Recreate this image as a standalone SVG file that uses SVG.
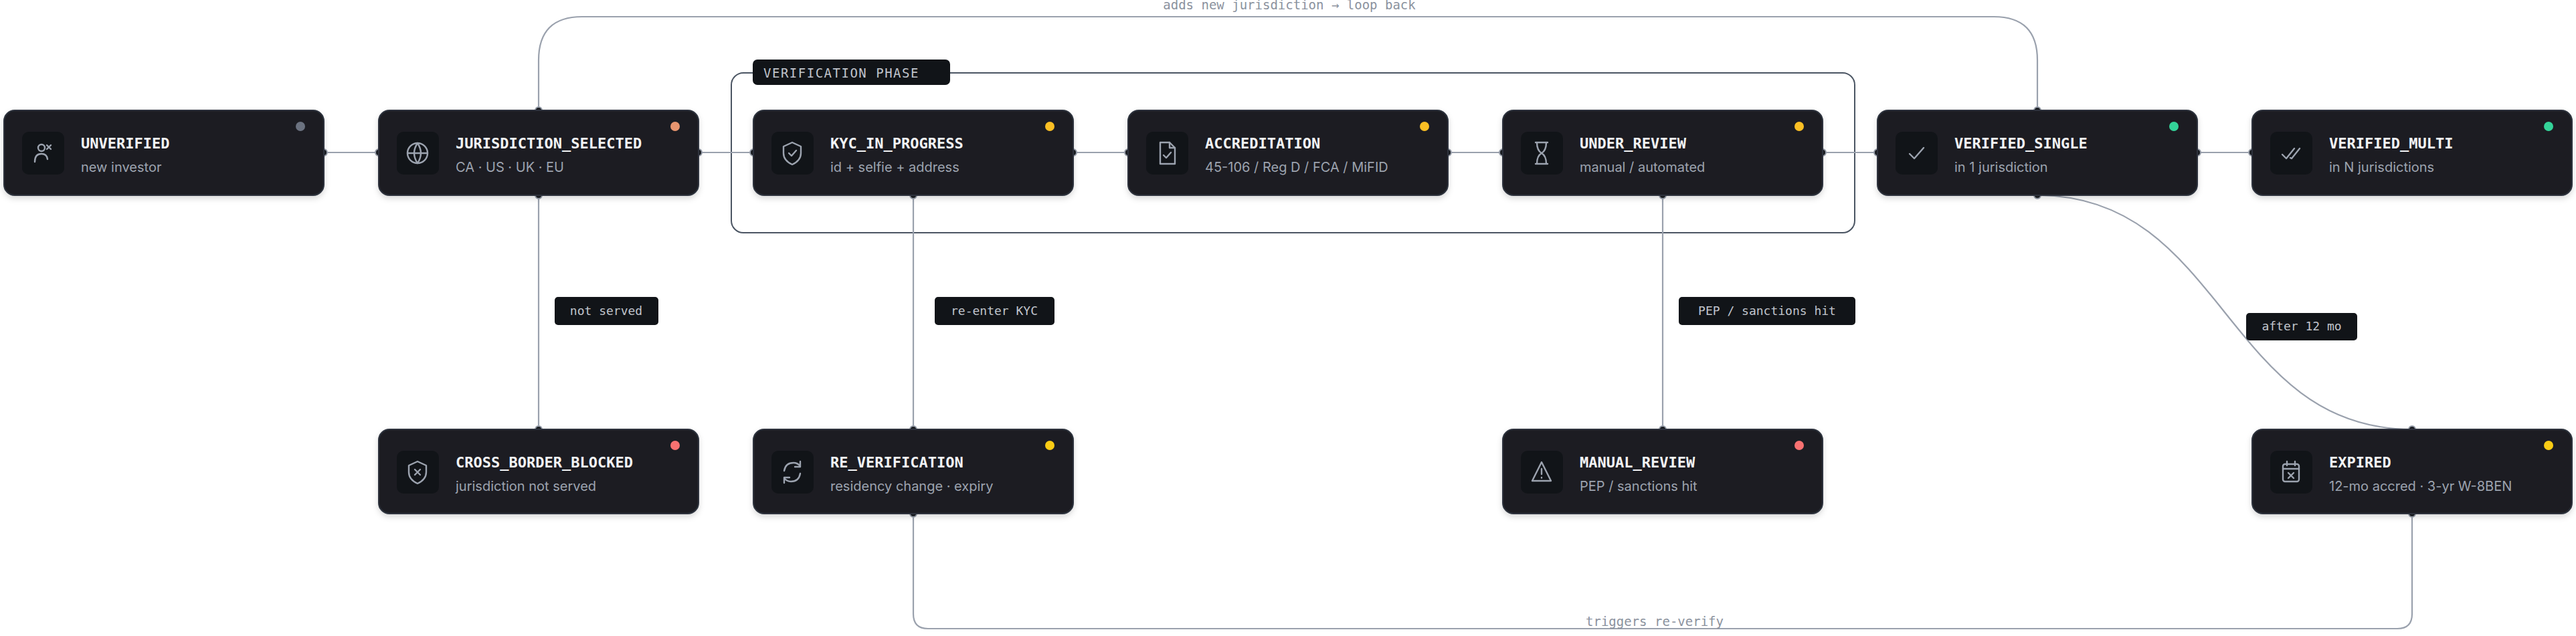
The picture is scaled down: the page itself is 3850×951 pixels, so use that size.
<svg xmlns="http://www.w3.org/2000/svg" width="3850" height="951" viewBox="0 0 3850 951">
<style>
.node{fill:#1c1f24;stroke:#2d333d;stroke-width:2}
.ibox{fill:#111418}
.ic{fill:none;stroke:#9ca3af;stroke-width:2.4;stroke-linecap:round;stroke-linejoin:round}
.t{font-family:"DejaVu Sans Mono","Liberation Mono",monospace;font-weight:bold;font-size:22px;fill:#f3f4f6}
.s{font-family:Inter,"Liberation Sans",sans-serif;font-size:20px;fill:#9ca3af}
.e{fill:none;stroke:#9aa1ad;stroke-width:2.2}
.lbg{fill:#111418}
.lt{font-family:"DejaVu Sans Mono","Liberation Mono",monospace;font-size:18px;fill:#c0c4cc;text-anchor:middle}
.el{font-family:"DejaVu Sans Mono","Liberation Mono",monospace;font-size:19px;fill:#8b929e;text-anchor:middle}
.p{fill:#1c1f24;stroke:#9aa1ad;stroke-width:2}
</style>
<defs>
<filter id="sh" x="-5%" y="-10%" width="110%" height="130%"><feDropShadow dx="0" dy="4" stdDeviation="4" flood-color="#000" flood-opacity="0.15"/></filter>
</defs>
<rect width="3850" height="951" fill="#ffffff"/>

<g id="group-verification">
<rect x="1093" y="109" width="1679" height="239" rx="18" fill="none" stroke="#4b5563" stroke-width="2"/>
<rect x="1125" y="89" width="295" height="38" rx="7" fill="#111418"/>
<text x="1141" y="116" style="font-family:'DejaVu Sans Mono','Liberation Mono',monospace;font-size:19px;fill:#c0c4cc;letter-spacing:1.5px">VERIFICATION PHASE</text>
</g>

<g id="connectors">
<path class="e" d="M484 228H566M1044 228H1126M1604 228H1686M2164 228H2246M2724 228H2806M3284 228H3366"/>
<path class="e" d="M805 165V90Q805 25 870 25H2980Q3045 25 3045 90V165"/>
<text class="el" x="1927" y="14">adds new jurisdiction → loop back</text>
<path class="e" d="M805 292V642"/>
<rect class="lbg" x="829" y="444" width="155" height="42" rx="5"/>
<text class="lt" x="906" y="471">not served</text>
<path class="e" d="M1365 292V642"/>
<rect class="lbg" x="1397" y="444" width="179" height="42" rx="5"/>
<text class="lt" x="1486" y="471">re-enter KYC</text>
<path class="e" d="M2485 292V642"/>
<rect class="lbg" x="2509" y="444" width="264" height="42" rx="5"/>
<text class="lt" x="2641" y="471">PEP / sanctions hit</text>
<path class="e" d="M3045 292C3325 292 3325 642 3605 642"/>
<rect class="lbg" x="3357" y="468" width="166" height="41" rx="5"/>
<text class="lt" x="3440" y="494">after 12 mo</text>
<path class="e" d="M1365 768V918Q1365 940 1387 940H3583Q3605 940 3605 918V768"/>
<text class="el" x="2473" y="936">triggers re-verify</text>
<g>
<circle class="p" cx="484" cy="228" r="5"/><circle class="p" cx="566" cy="228" r="5"/>
<circle class="p" cx="1044" cy="228" r="5"/><circle class="p" cx="1126" cy="228" r="5"/>
<circle class="p" cx="1604" cy="228" r="5"/><circle class="p" cx="1686" cy="228" r="5"/>
<circle class="p" cx="2164" cy="228" r="5"/><circle class="p" cx="2246" cy="228" r="5"/>
<circle class="p" cx="2724" cy="228" r="5"/><circle class="p" cx="2806" cy="228" r="5"/>
<circle class="p" cx="3284" cy="228" r="5"/><circle class="p" cx="3366" cy="228" r="5"/>
<circle class="p" cx="805" cy="165" r="5"/><circle class="p" cx="3045" cy="165" r="5"/>
<circle class="p" cx="805" cy="292" r="5"/><circle class="p" cx="805" cy="642" r="5"/>
<circle class="p" cx="1365" cy="292" r="5"/><circle class="p" cx="1365" cy="642" r="5"/>
<circle class="p" cx="2485" cy="292" r="5"/><circle class="p" cx="2485" cy="642" r="5"/>
<circle class="p" cx="3045" cy="292" r="5"/><circle class="p" cx="3605" cy="642" r="5"/>
<circle class="p" cx="1365" cy="768" r="5"/><circle class="p" cx="3605" cy="768" r="5"/>
</g>
</g>

<g id="UNVERIFIED" transform="translate(6,165)">
<rect class="node" width="478" height="127" rx="16" filter="url(#sh)"/><rect class="ibox" x="27" y="32" width="63" height="64" rx="10"/>
<g class="ic"><circle cx="56" cy="56" r="5"/><path d="M46 77Q46 65 56 65Q64 65 65 73M64 52L70 58M70 52L64 58"/></g>
<text class="t" x="115" y="57">UNVERIFIED</text><text class="s" x="115" y="92">new investor</text>
<circle cx="443" cy="24" r="7" fill="#6b7280"/></g>

<g id="JURISDICTION_SELECTED" transform="translate(566,165)">
<rect class="node" width="478" height="127" rx="16" filter="url(#sh)"/><rect class="ibox" x="27" y="32" width="63" height="64" rx="10"/>
<g class="ic"><circle cx="58" cy="64" r="15"/><path d="M43 64H73M58 49Q48 64 58 79Q68 64 58 49"/></g>
<text class="t" x="115" y="57">JURISDICTION_SELECTED</text><text class="s" x="115" y="92">CA · US · UK · EU</text>
<circle cx="443" cy="24" r="7" fill="#e8956f"/></g>

<g id="KYC_IN_PROGRESS" transform="translate(1126,165)">
<rect class="node" width="478" height="127" rx="16" filter="url(#sh)"/><rect class="ibox" x="27" y="32" width="63" height="64" rx="10"/>
<g class="ic"><path d="M58 48L71 54V64Q71 75 58 81Q45 75 45 64V54Z"/><path d="M53 64L57 68L64 60"/></g>
<text class="t" x="115" y="57">KYC_IN_PROGRESS</text><text class="s" x="115" y="92">id + selfie + address</text>
<circle cx="443" cy="24" r="7" fill="#fbbf24"/></g>

<g id="ACCREDITATION" transform="translate(1686,165)">
<rect class="node" width="478" height="127" rx="16" filter="url(#sh)"/><rect class="ibox" x="27" y="32" width="63" height="64" rx="10"/>
<g class="ic"><path d="M48 48H62L70 56V80H48Z"/><path d="M62 48V56H70M53 67L57 71L64 63"/></g>
<text class="t" x="115" y="57">ACCREDITATION</text><text class="s" x="115" y="92">45-106 / Reg D / FCA / MiFID</text>
<circle cx="443" cy="24" r="7" fill="#fbbf24"/></g>

<g id="UNDER_REVIEW" transform="translate(2246,165)">
<rect class="node" width="478" height="127" rx="16" filter="url(#sh)"/><rect class="ibox" x="27" y="32" width="63" height="64" rx="10"/>
<g class="ic"><path d="M49 48H67M49 80H67M51 48Q51 60 58 64Q65 68 65 80M65 48Q65 60 58 64Q51 68 51 80"/></g>
<text class="t" x="115" y="57">UNDER_REVIEW</text><text class="s" x="115" y="92">manual / automated</text>
<circle cx="443" cy="24" r="7" fill="#fbbf24"/></g>

<g id="VERIFIED_SINGLE" transform="translate(2806,165)">
<rect class="node" width="478" height="127" rx="16" filter="url(#sh)"/><rect class="ibox" x="27" y="32" width="63" height="64" rx="10"/>
<g class="ic"><path d="M48 65L55 72L69 56"/></g>
<text class="t" x="115" y="57">VERIFIED_SINGLE</text><text class="s" x="115" y="92">in 1 jurisdiction</text>
<circle cx="443" cy="24" r="7" fill="#34d399"/></g>

<g id="VERIFIED_MULTI" transform="translate(3366,165)">
<rect class="node" width="478" height="127" rx="16" filter="url(#sh)"/><rect class="ibox" x="27" y="32" width="63" height="64" rx="10"/>
<g class="ic"><path d="M45 66L51 72L63 57M57 71L59 72L71 57"/></g>
<text class="t" x="115" y="57">VERIFIED_MULTI</text><text class="s" x="115" y="92">in N jurisdictions</text>
<circle cx="443" cy="24" r="7" fill="#34d399"/></g>

<g id="CROSS_BORDER_BLOCKED" transform="translate(566,642)">
<rect class="node" width="478" height="126" rx="16" filter="url(#sh)"/><rect class="ibox" x="27" y="32" width="63" height="64" rx="10"/>
<g class="ic"><path d="M58 48L71 54V64Q71 75 58 81Q45 75 45 64V54Z"/><path d="M54 60L62 68M62 60L54 68"/></g>
<text class="t" x="115" y="57">CROSS_BORDER_BLOCKED</text><text class="s" x="115" y="92">jurisdiction not served</text>
<circle cx="443" cy="24" r="7" fill="#f87171"/></g>

<g id="RE_VERIFICATION" transform="translate(1126,642)">
<rect class="node" width="478" height="126" rx="16" filter="url(#sh)"/><rect class="ibox" x="27" y="32" width="63" height="64" rx="10"/>
<g class="ic"><path d="M46 62Q48 50 60 50Q66 50 70 55M70 48V56H62M70 66Q68 78 56 78Q50 78 46 73M46 80V72H54"/></g>
<text class="t" x="115" y="57">RE_VERIFICATION</text><text class="s" x="115" y="92">residency change · expiry</text>
<circle cx="443" cy="24" r="7" fill="#facc15"/></g>

<g id="MANUAL_REVIEW" transform="translate(2246,642)">
<rect class="node" width="478" height="126" rx="16" filter="url(#sh)"/><rect class="ibox" x="27" y="32" width="63" height="64" rx="10"/>
<g class="ic"><path d="M58 49L72 77H44Z"/><path d="M58 59V67M58 72V72.5"/></g>
<text class="t" x="115" y="57">MANUAL_REVIEW</text><text class="s" x="115" y="92">PEP / sanctions hit</text>
<circle cx="443" cy="24" r="7" fill="#f87171"/></g>

<g id="EXPIRED" transform="translate(3366,642)">
<rect class="node" width="478" height="126" rx="16" filter="url(#sh)"/><rect class="ibox" x="27" y="32" width="63" height="64" rx="10"/>
<g class="ic"><rect x="46" y="52" width="24" height="26" rx="3"/><path d="M46 59H70M52 48V54M64 48V54M54 65L62 73M62 65L54 73"/></g>
<text class="t" x="115" y="57">EXPIRED</text><text class="s" x="115" y="92">12-mo accred · 3-yr W-8BEN</text>
<circle cx="443" cy="24" r="7" fill="#facc15"/></g>
</svg>
